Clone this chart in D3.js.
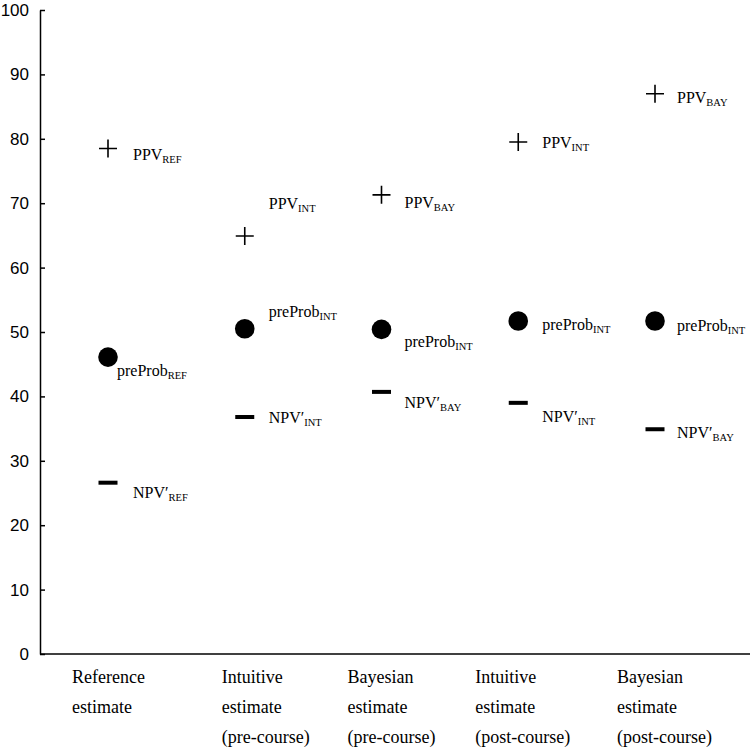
<!DOCTYPE html>
<html>
<head>
<meta charset="utf-8">
<script src="https://cdn.jsdelivr.net/npm/d3@7"></script>
<style>
  html, body { margin: 0; padding: 0; background: #fff; }
  svg { display: block; }
</style>
</head>
<body>
<svg id="chart" width="750" height="754"></svg>
<script>
// ---- data ----
const categories = ["Reference estimate", "Intuitive estimate (pre-course)", "Bayesian estimate (pre-course)", "Intuitive estimate (post-course)", "Bayesian estimate (post-course)"];
const categoryLines = [["Reference", "estimate"], ["Intuitive", "estimate", "(pre-course)"], ["Bayesian", "estimate", "(pre-course)"], ["Intuitive", "estimate", "(post-course)"], ["Bayesian", "estimate", "(post-course)"]];
const ppvValues = [78.5, 64.9, 71.3, 79.5, 87.0];
const preProbValues = [46.1, 50.5, 50.4, 51.7, 51.7];
const npvValues = [26.6, 36.8, 40.7, 39.0, 34.9];
const ppvSubs = ["REF", "INT", "BAY", "INT", "BAY"];
const preProbSubs = ["REF", "INT", "INT", "INT", "INT"];
const npvSubs = ["REF", "INT", "BAY", "INT", "BAY"];
const yTickValues = [0, 10, 20, 30, 40, 50, 60, 70, 80, 90, 100];

// ---- layout (offsets in px relative to marker / category position) ----
const categoryLabelOffset = [-36, -23, -34, -43, -38];
const ppvLabelOffset = [[25, 12], [24, -27], [23, 13], [24, 6], [22, 9]];
const preProbLabelOffset = [[9, 19], [24, -12], [23, 18], [24, 9], [22, 10]];
const npvLabelOffset = [[25, 15], [24, 6], [23, 16], [24, 19], [22, 9]];

const svg = d3.select("#chart");
const x = d3.scalePoint().domain(d3.range(categories.length)).range([108, 655]);
const y = d3.scaleLinear().domain([0, 100]).range([654, 10]);
const axisX = 40;

// y axis
const yAxis = d3.axisLeft(y).tickValues(yTickValues).tickSizeInner(-5).tickSizeOuter(0).tickPadding(11);
const gy = svg.append("g").attr("transform", `translate(${axisX},0)`).call(yAxis);
gy.select(".domain").attr("stroke", "#000").attr("stroke-width", 1.5);
gy.selectAll(".tick line").attr("stroke", "#000").attr("stroke-width", 1.5);
gy.selectAll(".tick text").attr("font-family", "'Liberation Sans', Arial, sans-serif").attr("font-size", 17).attr("fill", "#000");

// x axis line
svg.append("line").attr("x1", axisX).attr("x2", 750).attr("y1", y(0)).attr("y2", y(0))
  .attr("stroke", "#000").attr("stroke-width", 1.5);

// category labels
const serif = "'Liberation Serif', 'Times New Roman', serif";
categoryLines.forEach((lines, i) => {
  const t = svg.append("text").attr("font-family", serif).attr("font-size", 18).attr("fill", "#000");
  lines.forEach((ln, j) => {
    t.append("tspan").attr("x", x(i) + categoryLabelOffset[i]).attr("y", 683 + j * 30).text(ln);
  });
});

function label(px, py, main, sub) {
  const t = svg.append("text").attr("x", px).attr("y", py)
    .attr("font-family", serif).attr("font-size", 16).attr("fill", "#000");
  t.append("tspan").text(main);
  t.append("tspan").attr("font-size", 10.5).attr("dy", 3).text(sub);
}

// PPV markers (+)
const g = svg.append("g");
ppvValues.forEach((v, i) => {
  const cx = x(i), cy = y(v), h = 9;
  g.append("path").attr("d", `M${cx - h},${cy}H${cx + h}M${cx},${cy - h}V${cy + h}`)
    .attr("stroke", "#000").attr("stroke-width", 1.6).attr("fill", "none");
  label(cx + ppvLabelOffset[i][0], cy + ppvLabelOffset[i][1], "PPV", ppvSubs[i]);
});
// preProb markers (circle)
preProbValues.forEach((v, i) => {
  const cx = x(i), cy = y(v);
  g.append("circle").attr("cx", cx).attr("cy", cy).attr("r", 9.8).attr("fill", "#000");
  label(cx + preProbLabelOffset[i][0], cy + preProbLabelOffset[i][1], "preProb", preProbSubs[i]);
});
// NPV' markers (dash)
npvValues.forEach((v, i) => {
  const cx = x(i), cy = y(v);
  g.append("rect").attr("x", cx - 9.5).attr("y", cy - 2).attr("width", 19).attr("height", 4).attr("fill", "#000");
  label(cx + npvLabelOffset[i][0], cy + npvLabelOffset[i][1], "NPV\u2032", npvSubs[i]);
});
</script>
</body>
</html>
